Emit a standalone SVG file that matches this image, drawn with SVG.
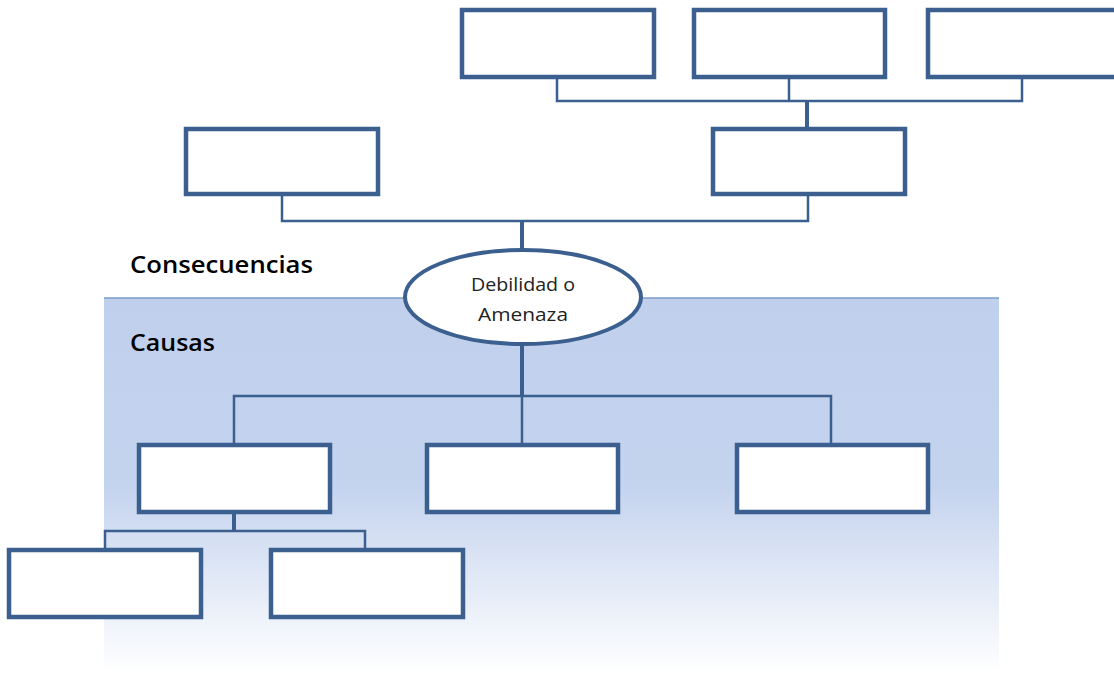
<svg xmlns="http://www.w3.org/2000/svg" width="1114" height="674" viewBox="0 0 1114 674">
<defs>
<linearGradient id="bg" x1="0" y1="298" x2="0" y2="674" gradientUnits="userSpaceOnUse">
<stop offset="0" stop-color="#c0d0ec"/>
<stop offset="0.5" stop-color="#c4d3ee"/>
<stop offset="1" stop-color="#ffffff"/>
</linearGradient>
</defs>
<style>
.box{fill:#ffffff;stroke:#3b5f8f;stroke-width:4.5}
.ell{fill:#ffffff;stroke:#3b5f8f;stroke-width:4}
.ln{fill:none;stroke:#3b5f8f;stroke-width:2.5}
.stem{fill:none;stroke:#3b5f8f;stroke-width:4}
.lbl{font-family:"Open Sans","Liberation Sans",sans-serif;font-size:23px;font-weight:600;fill:#000}
.nt{font-family:"Open Sans","Liberation Sans",sans-serif;font-size:18px;fill:#222;text-anchor:middle}
</style>
<rect x="104" y="298" width="895" height="376" fill="url(#bg)"/>
<line x1="104" y1="298" x2="999" y2="298" stroke="#7e9cc9" stroke-width="1.5"/>
<text class="lbl" x="130" y="273" textLength="183" lengthAdjust="spacingAndGlyphs">Consecuencias</text>
<text class="lbl" x="130" y="351" textLength="85" lengthAdjust="spacingAndGlyphs">Causas</text>
<g id="connectors">
<path class="ln" d="M557 77V101H1022V77M789 77V101"/>
<path class="stem" d="M807 101V129"/>
<path class="ln" d="M282 194V221H808V194"/>
<path class="stem" d="M522 221V250"/>
<path class="stem" d="M522 345V396"/>
<path class="ln" d="M234 445V396H831V445M522 396V445"/>
<path class="stem" d="M234 512V531"/>
<path class="ln" d="M105 550V531H365V550"/>
</g>
<g id="c1"><rect class="box" x="462" y="10" width="192" height="67"/></g>
<g id="c2"><rect class="box" x="694" y="10" width="191" height="67"/></g>
<g id="c3"><rect class="box" x="928" y="10" width="192" height="67"/></g>
<g id="c4"><rect class="box" x="186" y="129" width="192" height="65"/></g>
<g id="c5"><rect class="box" x="713" y="129" width="192" height="65"/></g>
<g id="center"><ellipse class="ell" cx="523" cy="297" rx="118" ry="47"/>
<text class="nt" x="523" y="291" textLength="104" lengthAdjust="spacingAndGlyphs">Debilidad o</text>
<text class="nt" x="523" y="321" textLength="90" lengthAdjust="spacingAndGlyphs">Amenaza</text></g>
<g id="k1"><rect class="box" x="139" y="445" width="191" height="67"/></g>
<g id="k2"><rect class="box" x="427" y="445" width="191" height="67"/></g>
<g id="k3"><rect class="box" x="737" y="445" width="191" height="67"/></g>
<g id="k4"><rect class="box" x="9" y="550" width="192" height="67"/></g>
<g id="k5"><rect class="box" x="271" y="550" width="192" height="67"/></g>
</svg>
